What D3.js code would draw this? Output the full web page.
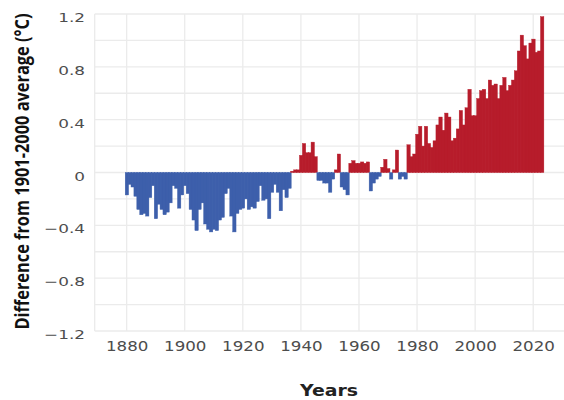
<!DOCTYPE html>
<html>
<head>
<meta charset="utf-8">
<script src="https://cdn.jsdelivr.net/npm/d3@7"></script>
<style>
    body { margin: 0; background: #fff; }
</style>
</head>
<body>
<div id="chart"></div>
<script>
// Annual anomalies vs the 1901-2000 average (deg C), 1880..2023
var years = d3.range(1880, 2024);
var anomalies = [
    -0.17, -0.09, -0.11, -0.18, -0.28, -0.32, -0.31, -0.33, -0.19, -0.10,
    -0.35, -0.24, -0.28, -0.32, -0.30, -0.23, -0.10, -0.12, -0.27, -0.17,
    -0.10, -0.16, -0.28, -0.36, -0.44, -0.28, -0.23, -0.39, -0.43, -0.45,
    -0.43, -0.44, -0.36, -0.34, -0.16, -0.12, -0.33, -0.45, -0.31, -0.28,
    -0.27, -0.20, -0.28, -0.26, -0.27, -0.22, -0.10, -0.21, -0.20, -0.35,
    -0.15, -0.09, -0.15, -0.29, -0.13, -0.19, -0.12, 0.01, 0.02, 0.02,
    0.13, 0.22, 0.15, 0.15, 0.23, 0.12, -0.06, -0.06, -0.08, -0.08,
    -0.15, -0.05, 0.02, 0.14, -0.11, -0.13, -0.17, 0.07, 0.09, 0.07,
    0.07, 0.08, 0.07, 0.08, -0.14, -0.08, -0.05, -0.03, 0.04, 0.10,
    0.03, -0.05, 0.02, 0.17, -0.05, -0.03, -0.05, 0.21, 0.12, 0.14,
    0.29, 0.35, 0.20, 0.35, 0.22, 0.19, 0.24, 0.36, 0.42, 0.32,
    0.45, 0.42, 0.24, 0.26, 0.33, 0.47, 0.36, 0.49, 0.63, 0.43,
    0.43, 0.56, 0.62, 0.63, 0.56, 0.70, 0.66, 0.67, 0.56, 0.66,
    0.72, 0.62, 0.66, 0.70, 0.77, 0.92, 1.04, 0.96, 0.86, 0.98,
    1.01, 0.91, 0.92, 1.18
];
var xTicks = [1880, 1900, 1920, 1940, 1960, 1980, 2000, 2020];
var yTicks = [-1.2, -0.8, -0.4, 0, 0.4, 0.8, 1.2];
var yTitle = "Difference from 1901-2000 average (°C)";
var xTitle = "Years";

var data = years.map(function(y, i) {
    return { year: y, value: anomalies[i] };
});

var svgW = 564;
var svgH = 400;

// plot panel
var panel = { left: 94.7, top: 14, right: 564, bottom: 331 };

var svg = d3.select("#chart")
    .append("svg")
    .attr("width", svgW)
    .attr("height", svgH);

var xScale = d3.scaleLinear()
    .domain([1869, 2030.6])
    .range([panel.left, panel.right]);
var yScale = d3.scaleLinear()
    .domain([-1.2, 1.2])
    .range([panel.bottom, panel.top]);

// grid: every 0.2 horizontally, every 20 years vertically
var grid = svg.append("g").attr("stroke", "#ebebeb").attr("stroke-width", 1.3);
grid.selectAll(".hgrid")
    .data(yScale.ticks(12))
    .enter()
    .append("line")
    .attr("x1", panel.left)
    .attr("x2", panel.right)
    .attr("y1", function(d) { return yScale(d); })
    .attr("y2", function(d) { return yScale(d); });
grid.selectAll(".vgrid")
    .data(xTicks)
    .enter()
    .append("line")
    .attr("x1", function(d) { return xScale(d); })
    .attr("x2", function(d) { return xScale(d); })
    .attr("y1", panel.top)
    .attr("y2", panel.bottom);
grid.append("line")
    .attr("x1", panel.left)
    .attr("x2", panel.left)
    .attr("y1", panel.top)
    .attr("y2", panel.bottom);

// bars (thin same-colour stroke so no hairline gaps show)
svg.append("g")
    .selectAll("rect")
    .data(data)
    .enter()
    .append("rect")
    .attr("x", function(d) { return xScale(d.year - 0.5); })
    .attr("width", function(d) { return xScale(d.year + 0.5) - xScale(d.year - 0.5) + 0.5; })
    .attr("y", function(d) { return yScale(Math.max(0, d.value)); })
    .attr("height", function(d) { return Math.max(1, Math.abs(yScale(d.value) - yScale(0))); })
    .attr("fill", function(d) { return d.value < 0 ? "#3d5fab" : "#b71c2b"; })
    .attr("stroke", function(d) { return d.value < 0 ? "#3d5fab" : "#b71c2b"; })
    .attr("stroke-width", 0.4);

// axes, drawn with d3 axis generators and then restyled
var fmt = d3.format("");
var yAxis = d3.axisLeft(yScale)
    .tickValues(yTicks)
    .tickSize(0)
    .tickPadding(0)
    .tickFormat(function(d) { return d === 0 ? "0" : fmt(d); });
var yG = svg.append("g")
    .attr("transform", "translate(85,0)")
    .call(yAxis);
yG.select(".domain").remove();
yG.selectAll(".tick text")
    .attr("x", 0)
    .attr("dy", null)
    .attr("y", 7.5)
    .attr("transform", "scale(1.35,1)")
    .attr("font-family", "DejaVu Sans")
    .attr("font-size", 12.5)
    .attr("fill", "#4d4d4d");

var xAxis = d3.axisBottom(xScale)
    .tickValues(xTicks)
    .tickSize(0)
    .tickPadding(0)
    .tickFormat(d3.format("d"));
var xG = svg.append("g")
    .attr("transform", "translate(0,351)")
    .call(xAxis);
xG.select(".domain").remove();
xG.selectAll(".tick text")
    .attr("y", 0)
    .attr("dy", null)
    .attr("transform", "scale(1.15,1)")
    .attr("font-family", "DejaVu Sans")
    .attr("font-size", 14.5)
    .attr("fill", "#4d4d4d");

// titles
svg.append("text")
    .attr("transform", "translate(29,171.5) rotate(-90)")
    .attr("text-anchor", "middle")
    .attr("font-family", "'Open Sans', 'Liberation Sans', sans-serif")
    .attr("font-weight", 700)
    .attr("font-size", 20)
    .attr("textLength", 316)
    .attr("lengthAdjust", "spacingAndGlyphs")
    .attr("fill", "#111")
    .text(yTitle);

svg.append("text")
    .attr("x", 329)
    .attr("y", 396)
    .attr("text-anchor", "middle")
    .attr("font-family", "DejaVu Sans")
    .attr("font-weight", "bold")
    .attr("font-size", 16)
    .attr("textLength", 58)
    .attr("lengthAdjust", "spacingAndGlyphs")
    .attr("fill", "#222")
    .text(xTitle);
</script>
</body>
</html>
